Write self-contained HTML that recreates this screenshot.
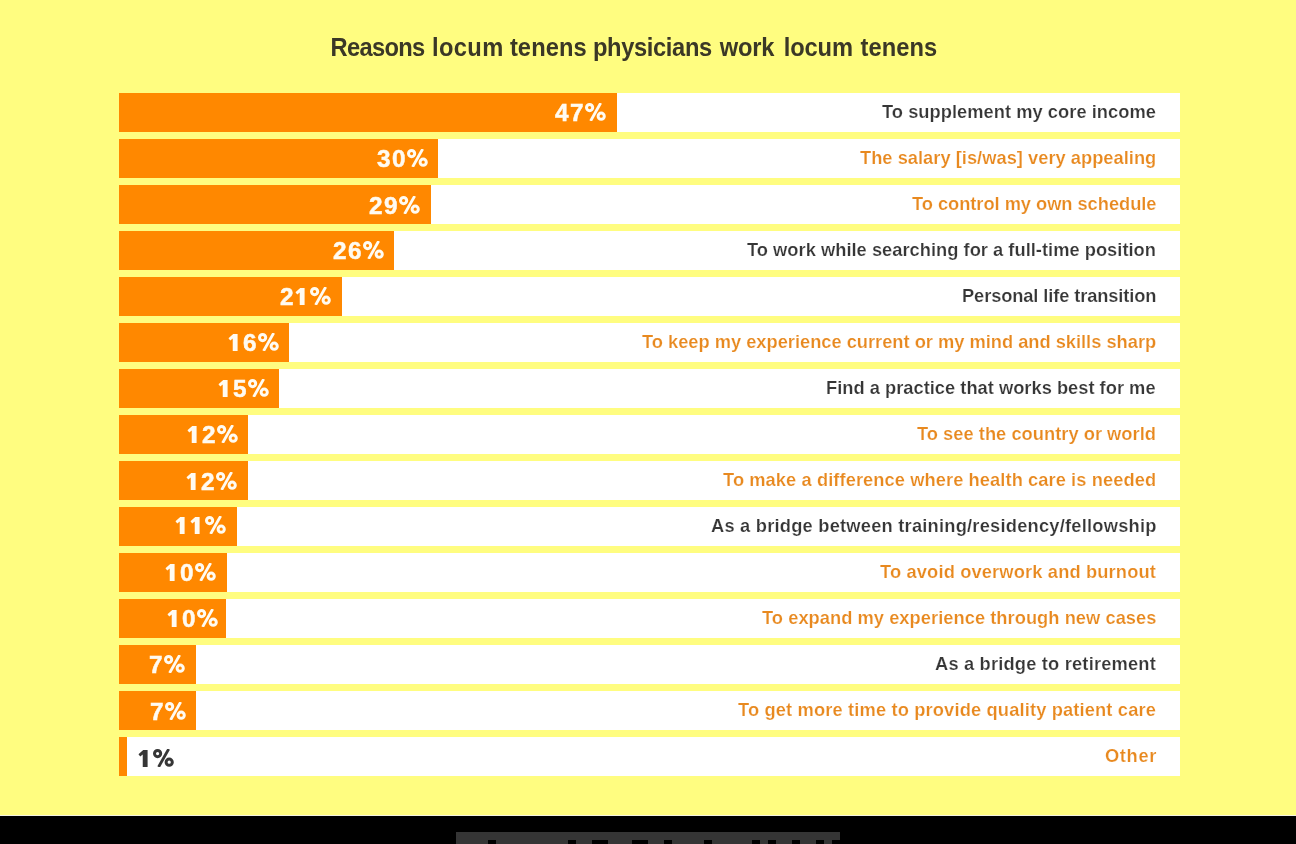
<!DOCTYPE html>
<html><head><meta charset="utf-8"><style>
html,body{margin:0;padding:0}
body{width:1296px;height:844px;background:#000;position:relative;overflow:hidden;font-family:"Liberation Sans",sans-serif;font-weight:bold}
#bg{position:absolute;left:0;top:0;width:1296px;height:815px;background:#FFFD80}
#line{position:absolute;left:0;top:815px;width:1296px;height:1px;background:#f4f4e0}
#title{position:absolute;left:330.5px;top:35.5px;width:700px;height:24px;line-height:24px;font-size:23.7px;color:#3b3826;white-space:nowrap;transform:scaleY(1.06);transform-origin:0 20px;will-change:transform}
#title span{position:absolute;top:0}
.row{position:absolute;left:119px;width:1061px;height:39px;background:#fff}
.bar{position:absolute;left:0;top:0;height:39px;background:#FF8800}
.pct{position:absolute;line-height:39px;font-size:24.3px;letter-spacing:1.5px;color:#FFFBF2;fill:#FFFBF2;-webkit-text-stroke:0.5px #FFFBF2;will-change:transform;white-space:nowrap}
.pct.out{color:#363636;fill:#363636;-webkit-text-stroke:0.4px #363636;top:2px;letter-spacing:2.5px}
.one{width:0.556em;height:0.712em;vertical-align:baseline;margin-right:1.5px}
.out .one{margin-left:1px;margin-right:1.5px}
.pc{width:21px;height:18px;vertical-align:baseline;fill:none;stroke:currentColor;stroke-width:3;margin-left:0.3px}
.pc line{stroke-width:2.8}
.lab{position:absolute;top:-1px;line-height:39px;-webkit-text-stroke:0.2px #fff;font-size:18.3px;will-change:transform;white-space:nowrap}
.lab.d{color:#363636}
.lab.o{color:#E8891F}
#gray{position:absolute;left:456px;top:832px;width:384px;height:12px;background:#353535}
.gap{position:absolute;top:8px;height:4px;background:#000}
</style></head><body>
<div id="bg"></div><div id="line"></div>
<div id="title"><span style="left:-0.50px;letter-spacing:-0.675px">Reasons</span><span style="left:101.10px;letter-spacing:0.337px">locum</span><span style="left:178.90px;letter-spacing:0.090px">tenens</span><span style="left:261.90px;letter-spacing:-0.350px">physicians</span><span style="left:388.70px;letter-spacing:-0.150px">work</span><span style="left:452.70px;letter-spacing:-0.113px">locum</span><span style="left:529.50px;letter-spacing:0.090px">tenens</span></div>
<div class="row" style="top:93px"><div class="bar" style="width:498px"></div>
<div class="pct" style="right:573.50px;top:0.10px">47<svg class="pc" viewBox="0 0 21 18"><circle cx="4.6" cy="4.6" r="3.1"/><circle cx="16.2" cy="13.2" r="3.1"/><line x1="15.7" y1="0" x2="5.6" y2="18"/></svg></div>
<div class="lab d" style="letter-spacing:0.037px;right:23.963px">To supplement my core income</div></div>
<div class="row" style="top:139px"><div class="bar" style="width:319px"></div>
<div class="pct" style="right:751.70px;top:0.10px">30<svg class="pc" viewBox="0 0 21 18"><circle cx="4.6" cy="4.6" r="3.1"/><circle cx="16.2" cy="13.2" r="3.1"/><line x1="15.7" y1="0" x2="5.6" y2="18"/></svg></div>
<div class="lab o" style="letter-spacing:0.018px;right:23.982px">The salary [is/was] very appealing</div></div>
<div class="row" style="top:185px"><div class="bar" style="width:312px"></div>
<div class="pct" style="right:759.50px;top:1.00px">29<svg class="pc" viewBox="0 0 21 18"><circle cx="4.6" cy="4.6" r="3.1"/><circle cx="16.2" cy="13.2" r="3.1"/><line x1="15.7" y1="0" x2="5.6" y2="18"/></svg></div>
<div class="lab o" style="letter-spacing:-0.040px;right:24.040px">To control my own schedule</div></div>
<div class="row" style="top:231px"><div class="bar" style="width:275px"></div>
<div class="pct" style="right:795.60px;top:0.30px">26<svg class="pc" viewBox="0 0 21 18"><circle cx="4.6" cy="4.6" r="3.1"/><circle cx="16.2" cy="13.2" r="3.1"/><line x1="15.7" y1="0" x2="5.6" y2="18"/></svg></div>
<div class="lab d" style="letter-spacing:0.021px;right:23.979px">To work while searching for a full-time position</div></div>
<div class="row" style="top:277px"><div class="bar" style="width:223px"></div>
<div class="pct" style="right:848.50px;top:0.40px">2<svg class="one" viewBox="0 0 1139 1450" preserveAspectRatio="none"><path d="M810 0L810 1450L400 1450L400 370L190 540L40 350L440 0Z"/></svg><svg class="pc" viewBox="0 0 21 18"><circle cx="4.6" cy="4.6" r="3.1"/><circle cx="16.2" cy="13.2" r="3.1"/><line x1="15.7" y1="0" x2="5.6" y2="18"/></svg></div>
<div class="lab d" style="letter-spacing:-0.113px;right:24.113px">Personal life transition</div></div>
<div class="row" style="top:323px"><div class="bar" style="width:170px"></div>
<div class="pct" style="right:900.50px;top:0.10px"><svg class="one" viewBox="0 0 1139 1450" preserveAspectRatio="none"><path d="M810 0L810 1450L400 1450L400 370L190 540L40 350L440 0Z"/></svg>6<svg class="pc" viewBox="0 0 21 18"><circle cx="4.6" cy="4.6" r="3.1"/><circle cx="16.2" cy="13.2" r="3.1"/><line x1="15.7" y1="0" x2="5.6" y2="18"/></svg></div>
<div class="lab o" style="letter-spacing:-0.011px;right:24.011px">To keep my experience current or my mind and skills sharp</div></div>
<div class="row" style="top:369px"><div class="bar" style="width:160px"></div>
<div class="pct" style="right:910.50px;top:0.10px"><svg class="one" viewBox="0 0 1139 1450" preserveAspectRatio="none"><path d="M810 0L810 1450L400 1450L400 370L190 540L40 350L440 0Z"/></svg>5<svg class="pc" viewBox="0 0 21 18"><circle cx="4.6" cy="4.6" r="3.1"/><circle cx="16.2" cy="13.2" r="3.1"/><line x1="15.7" y1="0" x2="5.6" y2="18"/></svg></div>
<div class="lab d" style="letter-spacing:0.011px;right:23.989px">Find a practice that works best for me</div></div>
<div class="row" style="top:415px"><div class="bar" style="width:129px"></div>
<div class="pct" style="right:941.60px;top:0.10px"><svg class="one" viewBox="0 0 1139 1450" preserveAspectRatio="none"><path d="M810 0L810 1450L400 1450L400 370L190 540L40 350L440 0Z"/></svg>2<svg class="pc" viewBox="0 0 21 18"><circle cx="4.6" cy="4.6" r="3.1"/><circle cx="16.2" cy="13.2" r="3.1"/><line x1="15.7" y1="0" x2="5.6" y2="18"/></svg></div>
<div class="lab o" style="letter-spacing:0.023px;right:23.977px">To see the country or world</div></div>
<div class="row" style="top:461px"><div class="bar" style="width:129px"></div>
<div class="pct" style="right:942.50px;top:1.00px"><svg class="one" viewBox="0 0 1139 1450" preserveAspectRatio="none"><path d="M810 0L810 1450L400 1450L400 370L190 540L40 350L440 0Z"/></svg>2<svg class="pc" viewBox="0 0 21 18"><circle cx="4.6" cy="4.6" r="3.1"/><circle cx="16.2" cy="13.2" r="3.1"/><line x1="15.7" y1="0" x2="5.6" y2="18"/></svg></div>
<div class="lab o" style="letter-spacing:0.077px;right:23.923px">To make a difference where health care is needed</div></div>
<div class="row" style="top:507px"><div class="bar" style="width:118px"></div>
<div class="pct" style="right:953.50px;top:-1.00px"><svg class="one" viewBox="0 0 1139 1450" preserveAspectRatio="none"><path d="M810 0L810 1450L400 1450L400 370L190 540L40 350L440 0Z"/></svg><svg class="one" viewBox="0 0 1139 1450" preserveAspectRatio="none"><path d="M810 0L810 1450L400 1450L400 370L190 540L40 350L440 0Z"/></svg><svg class="pc" viewBox="0 0 21 18"><circle cx="4.6" cy="4.6" r="3.1"/><circle cx="16.2" cy="13.2" r="3.1"/><line x1="15.7" y1="0" x2="5.6" y2="18"/></svg></div>
<div class="lab d" style="letter-spacing:0.221px;right:23.779px">As a bridge between training/residency/fellowship</div></div>
<div class="row" style="top:553px"><div class="bar" style="width:108px"></div>
<div class="pct" style="right:963.50px;top:0.10px"><svg class="one" viewBox="0 0 1139 1450" preserveAspectRatio="none"><path d="M810 0L810 1450L400 1450L400 370L190 540L40 350L440 0Z"/></svg>0<svg class="pc" viewBox="0 0 21 18"><circle cx="4.6" cy="4.6" r="3.1"/><circle cx="16.2" cy="13.2" r="3.1"/><line x1="15.7" y1="0" x2="5.6" y2="18"/></svg></div>
<div class="lab o" style="letter-spacing:0.143px;right:23.857px">To avoid overwork and burnout</div></div>
<div class="row" style="top:599px"><div class="bar" style="width:107px"></div>
<div class="pct" style="right:961.70px;top:0.10px"><svg class="one" viewBox="0 0 1139 1450" preserveAspectRatio="none"><path d="M810 0L810 1450L400 1450L400 370L190 540L40 350L440 0Z"/></svg>0<svg class="pc" viewBox="0 0 21 18"><circle cx="4.6" cy="4.6" r="3.1"/><circle cx="16.2" cy="13.2" r="3.1"/><line x1="15.7" y1="0" x2="5.6" y2="18"/></svg></div>
<div class="lab o" style="letter-spacing:0.040px;right:23.960px">To expand my experience through new cases</div></div>
<div class="row" style="top:645px"><div class="bar" style="width:77px"></div>
<div class="pct" style="right:994.50px;top:0.40px">7<svg class="pc" viewBox="0 0 21 18"><circle cx="4.6" cy="4.6" r="3.1"/><circle cx="16.2" cy="13.2" r="3.1"/><line x1="15.7" y1="0" x2="5.6" y2="18"/></svg></div>
<div class="lab d" style="letter-spacing:0.183px;right:23.817px">As a bridge to retirement</div></div>
<div class="row" style="top:691px"><div class="bar" style="width:77px"></div>
<div class="pct" style="right:994.00px;top:0.70px">7<svg class="pc" viewBox="0 0 21 18"><circle cx="4.6" cy="4.6" r="3.1"/><circle cx="16.2" cy="13.2" r="3.1"/><line x1="15.7" y1="0" x2="5.6" y2="18"/></svg></div>
<div class="lab o" style="letter-spacing:0.145px;right:23.855px">To get more time to provide quality patient care</div></div>
<div class="row" style="top:737px"><div class="bar" style="width:8px"></div>
<div class="pct out" style="left:18px"><svg class="one" viewBox="0 0 1139 1450" preserveAspectRatio="none"><path d="M810 0L810 1450L400 1450L400 370L190 540L40 350L440 0Z"/></svg><svg class="pc" viewBox="0 0 21 18"><circle cx="4.6" cy="4.6" r="3.1"/><circle cx="16.2" cy="13.2" r="3.1"/><line x1="15.7" y1="0" x2="5.6" y2="18"/></svg></div>
<div class="lab o" style="letter-spacing:0.650px;right:23.350px">Other</div></div>
<div id="gray"><div class="gap" style="left:32px;width:8px"></div><div class="gap" style="left:112px;width:8px"></div><div class="gap" style="left:136px;width:16px"></div><div class="gap" style="left:176px;width:16px"></div><div class="gap" style="left:208px;width:8px"></div><div class="gap" style="left:248px;width:8px"></div><div class="gap" style="left:296px;width:8px"></div><div class="gap" style="left:312px;width:8px"></div><div class="gap" style="left:336px;width:8px"></div><div class="gap" style="left:360px;width:8px"></div><div class="gap" style="left:376px;width:8px"></div></div>
</body></html>
